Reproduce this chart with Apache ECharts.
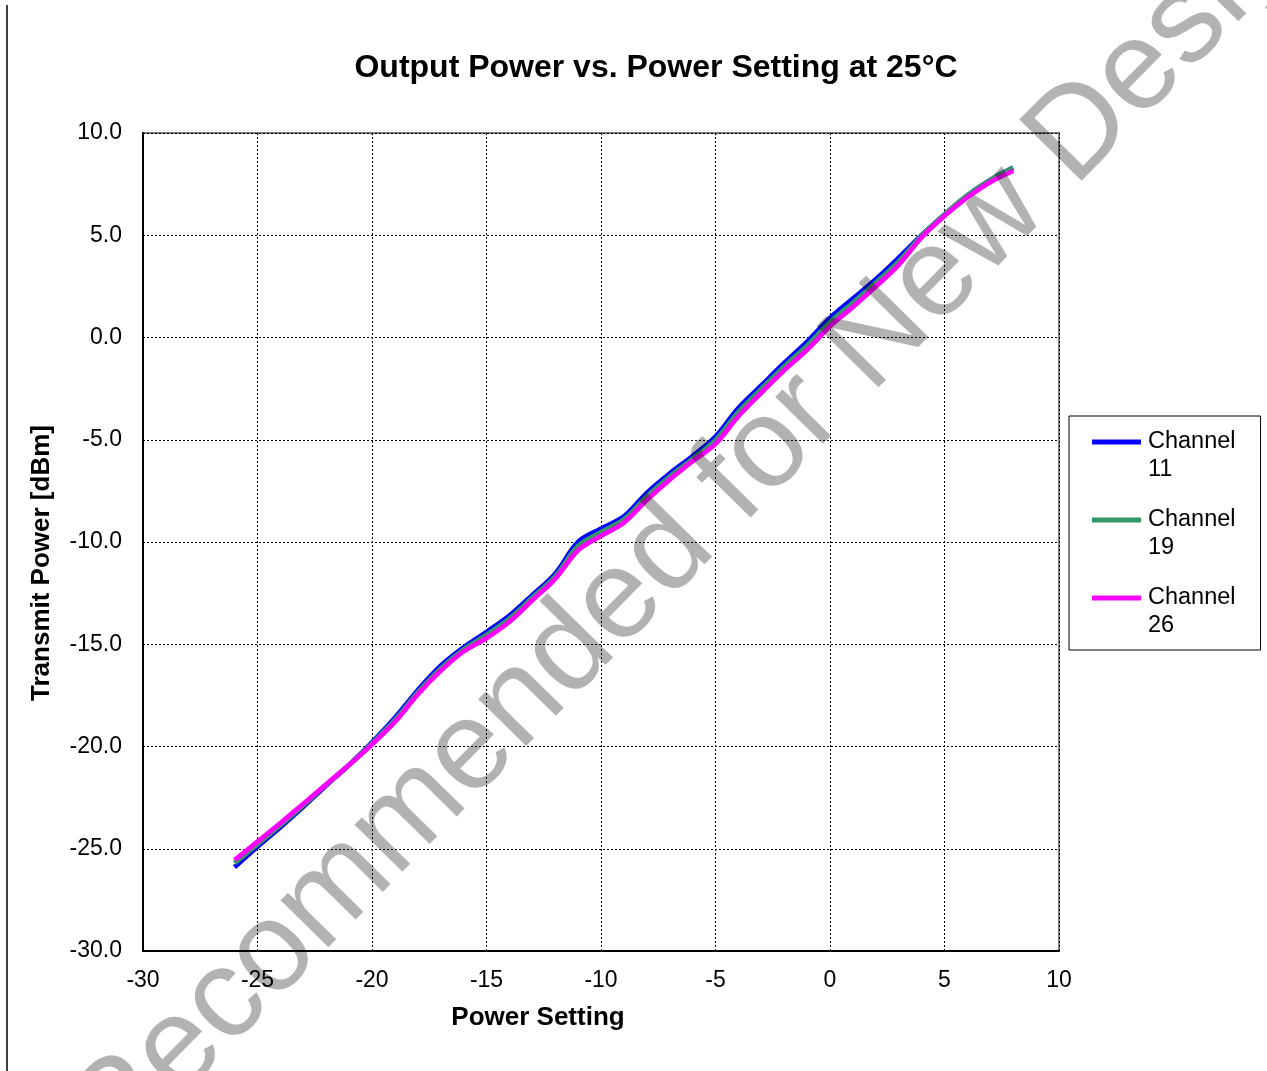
<!DOCTYPE html>
<html>
<head>
<meta charset="utf-8">
<script src="https://cdn.jsdelivr.net/npm/echarts@6/dist/echarts.min.js"></script>
<style>
html,body{margin:0;padding:0;background:#fff;}
#chart{width:1267px;height:1071px;}
</style>
</head>
<body>
<div id="chart"></div>
<script>
// ---- data ----
const powerSetting = [-26,-25,-24,-23,-22,-21,-20,-19,-18,-17,-16,-15,-14,-13,-12,-11,-10,-9,-8,-7,-6,-5,-4,-3,-2,-1,0,1,2,3,4,5,6,7,8];
const channel11 = [-25.9,-24.9,-23.95,-22.95,-21.9,-20.9,-19.8,-18.6,-17.25,-16.05,-15.15,-14.4,-13.6,-12.6,-11.55,-10.0,-9.35,-8.75,-7.6,-6.65,-5.8,-4.85,-3.45,-2.35,-1.25,-0.2,0.95,1.9,2.85,3.9,5.0,6.0,6.95,7.7,8.3];
const channel19 = [-25.7,-24.78,-23.85,-22.87,-21.87,-20.9,-19.85,-18.7,-17.35,-16.18,-15.25,-14.55,-13.75,-12.72,-11.68,-10.2,-9.52,-8.9,-7.78,-6.8,-5.93,-5.02,-3.65,-2.52,-1.42,-0.4,0.75,1.7,2.68,3.72,4.98,6.02,6.95,7.7,8.3];
const channel26 = [-25.55,-24.65,-23.75,-22.8,-21.85,-20.9,-19.9,-18.8,-17.45,-16.3,-15.35,-14.7,-13.9,-12.85,-11.8,-10.4,-9.7,-9.05,-7.95,-6.95,-6.05,-5.2,-3.85,-2.7,-1.6,-0.6,0.55,1.5,2.5,3.55,4.9,5.95,6.85,7.6,8.15];
const seriesNames = ['Channel 11','Channel 19','Channel 26'];
const seriesColors = ['#0000FF','#339966','#FF00FF'];
const titleText = 'Output Power vs. Power Setting at 25°C';
const xAxisTitle = 'Power Setting';
const yAxisTitle = 'Transmit Power [dBm]';
const watermarkText = 'Not Recommended for New Designs';

const FONT = '"Liberation Sans", Arial, sans-serif';
const chart = echarts.init(document.getElementById('chart'), null, {renderer:'canvas'});

function pairs(ys){ return powerSetting.map((x,i)=>[x, ys[i]]); }

// watermark placement: anchor the "D" of "Designs"
const wmSize = 127;
const wmAngle = 45.5 * Math.PI/180;
const cvs = document.createElement('canvas').getContext('2d');
cvs.font = wmSize + 'px "Liberation Sans", Arial';
const preW = cvs.measureText('Not Recommended for New ').width;
const Dx = 1080, Dy = 194;
const cs = Math.cos(wmAngle), sn = Math.sin(wmAngle);
const sx = Dx - preW*cs, sy = Dy + preW*sn;
const upOff = 0.34*wmSize;
const wmX = sx - sn*upOff, wmY = sy - cs*upOff;

const seriesData = [channel11, channel19, channel26];

chart.setOption({
  animation:false,
  backgroundColor:'#fff',
  grid:{left:143, right:208, top:133, bottom:120, show:true, borderColor:'#808080', borderWidth:2, backgroundColor:'transparent'},
  legend:{
    orient:'vertical', left:1069, top:416,
    padding:[12,25,10,23], itemGap:22,
    itemWidth:49, itemHeight:33,
    icon:'path://M0,0L49,0L49,5L0,5Z M0,33',
    borderColor:'#000', borderWidth:1, backgroundColor:'#fff',
    data: seriesNames,
    formatter: n => n.replace(' ', '\n'),
    textStyle:{fontSize:23.5, lineHeight:28, color:'#000', fontFamily:FONT, padding:[0,0,0,2]}
  },
  xAxis:{
    type:'value', min:-30, max:10, interval:5,
    axisLine:{show:true, onZero:false, lineStyle:{color:'#000', width:2}},
    axisTick:{show:false},
    axisLabel:{fontSize:23, color:'#000', fontFamily:FONT, margin:18},
    splitLine:{show:true, lineStyle:{color:'#000', width:1, type:[2,2]}}
  },
  yAxis:{
    type:'value', min:-30, max:10, interval:5,
    axisLine:{show:true, onZero:false, lineStyle:{color:'#000', width:2}},
    axisTick:{show:false},
    axisLabel:{fontSize:23, color:'#000', fontFamily:FONT, margin:21, padding:[4,0,0,0], formatter:v=>v.toFixed(1)},
    splitLine:{show:true, lineStyle:{color:'#000', width:1, type:[2,2]}}
  },
  series: seriesNames.map((name,i)=>({
    name, type:'line', data:pairs(seriesData[i]),
    smooth:0.35, showSymbol:false, symbol:'none',
    color:seriesColors[i],
    itemStyle:{color:seriesColors[i]},
    lineStyle:{color:seriesColors[i], width:4.8},
    z:2+i
  })),
  graphic:[
    {type:'line', shape:{x1:7, y1:5, x2:7, y2:1071}, style:{stroke:'#000', lineWidth:1.5}, z:50},
    {type:'text', x:656, y:68, style:{text:titleText, font:'bold 32px '+FONT, fill:'#000', textAlign:'center', textVerticalAlign:'middle'}, z:50},
    {type:'text', x:538, y:1018, style:{text:xAxisTitle, font:'bold 26px '+FONT, fill:'#000', textAlign:'center', textVerticalAlign:'middle'}, z:50},
    {type:'text', x:42, y:563, rotation:Math.PI/2, style:{text:yAxisTitle, font:'bold 26px '+FONT, fill:'#000', textAlign:'center', textVerticalAlign:'middle'}, z:50},
    {type:'text', x:wmX, y:wmY, rotation:wmAngle, style:{text:watermarkText, font:wmSize+'px "Liberation Sans", Arial', fill:'rgba(0,0,0,0.3)', textAlign:'left', textVerticalAlign:'middle'}, z:200}
  ]
});
</script>
</body>
</html>
